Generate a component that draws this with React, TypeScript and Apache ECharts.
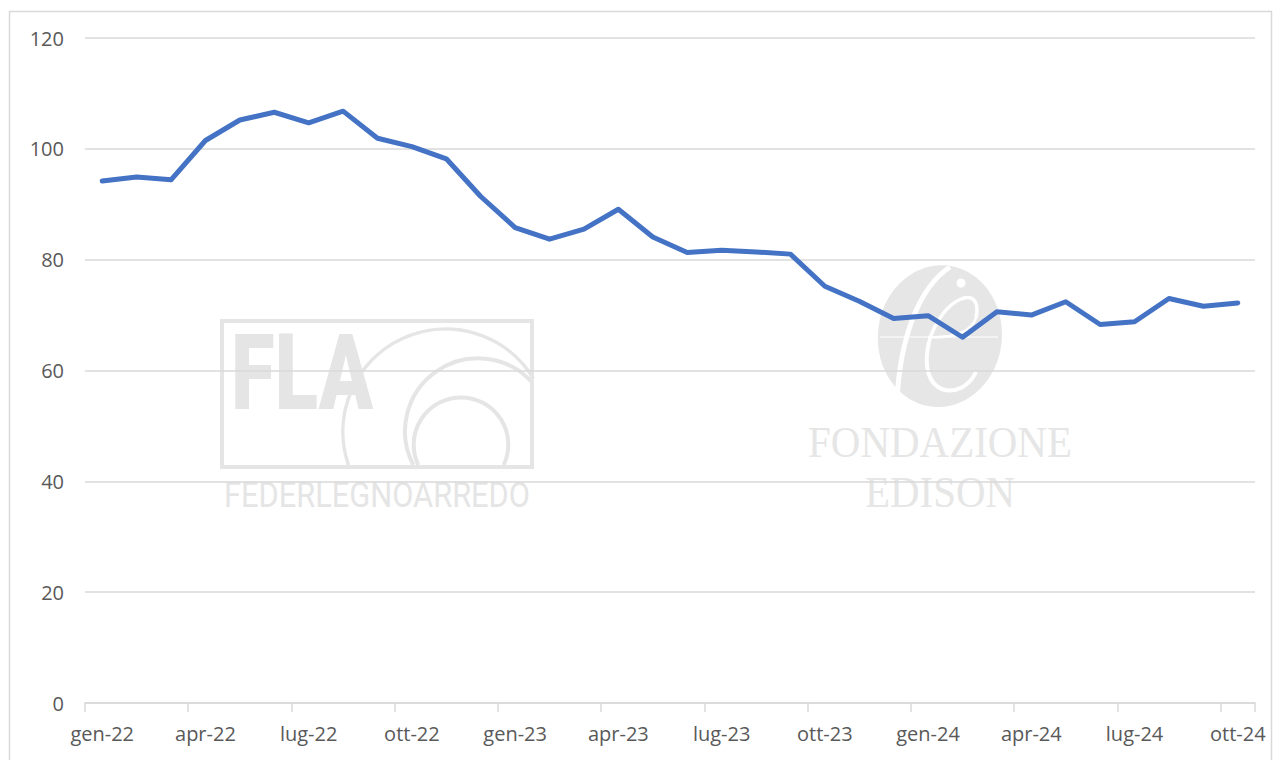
import React, { useEffect, useRef } from "react";
import * as echarts from "echarts";

const months: string[] = [
  "gen-22", "feb-22", "mar-22", "apr-22", "mag-22", "giu-22", "lug-22", "ago-22", "set-22", "ott-22", "nov-22", "dic-22",
  "gen-23", "feb-23", "mar-23", "apr-23", "mag-23", "giu-23", "lug-23", "ago-23", "set-23", "ott-23", "nov-23", "dic-23",
  "gen-24", "feb-24", "mar-24", "apr-24", "mag-24", "giu-24", "lug-24", "ago-24", "set-24", "ott-24",
];

const values2022: number[] = [94.2, 94.9, 94.4, 101.5, 105.2, 106.6, 104.7, 106.8, 101.9, 100.4, 98.2, 91.4];
const values2023: number[] = [85.8, 83.7, 85.5, 89.1, 84.1, 81.3, 81.7, 81.4, 81.0, 75.2, 72.5, 69.4];
const values2024: number[] = [69.9, 66.0, 70.6, 70.0, 72.4, 68.3, 68.8, 73.0, 71.6, 72.2];

const seriesValues: number[] = [...values2022, ...values2023, ...values2024];

const yTicks = { min: 0, max: 120, interval: 20 };

const deg = (d: number) => (d * Math.PI) / 180;

export default function App() {
  const ref = useRef<HTMLDivElement | null>(null);

  useEffect(() => {
    document.body.style.margin = "0";
    if (!ref.current) return;
    const chart = echarts.init(ref.current, undefined, { renderer: "svg" });
    const wm = "#e5e5e5";
    const white = "#ffffff";
    chart.setOption({
      animation: false,
      backgroundColor: "#ffffff",
      grid: { left: 85, right: 19, top: 38, bottom: 57, containLabel: false },
      xAxis: {
        type: "category",
        data: months,
        boundaryGap: true,
        axisLine: { lineStyle: { color: "#d9d9d9", width: 1.5 } },
        axisTick: { show: true, interval: 2, length: 9, lineStyle: { color: "#d9d9d9", width: 1.5 } },
        axisLabel: { interval: 2, color: "#595959", fontSize: 20, fontFamily: "Open Sans", margin: 20 },
        splitLine: { show: false },
      },
      yAxis: {
        type: "value",
        min: yTicks.min,
        max: yTicks.max,
        interval: yTicks.interval,
        axisLine: { show: false },
        axisTick: { show: false },
        splitLine: { lineStyle: { color: "#d9d9d9", width: 1.5 } },
        axisLabel: { color: "#595959", fontSize: 20, fontFamily: "Open Sans", margin: 21 },
      },
      series: [
        {
          type: "line",
          data: seriesValues,
          symbol: "none",
          z: 5,
          lineStyle: { color: "#4472C4", width: 5, cap: "round", join: "round" },
        },
      ],
      graphic: [
        {
          type: "rect",
          z: -2,
          silent: true,
          shape: { x: 9.5, y: 11.5, width: 1262, height: 800 },
          style: { fill: null, stroke: "#d9d9d9", lineWidth: 1.5 },
        },
        // FLA watermark
        {
          type: "rect",
          z: -1,
          silent: true,
          shape: { x: 222, y: 321, width: 310, height: 146 },
          style: { fill: null, stroke: wm, lineWidth: 4 },
        },
        {
          type: "text",
          z: -1,
          silent: true,
          x: 231,
          y: 373,
          scaleX: 0.76,
          style: { text: "FLA", fill: wm, font: "900 105px Roboto", align: "left", verticalAlign: "middle" },
        },
        {
          type: "arc",
          z: -1,
          silent: true,
          shape: { cx: 445.6, cy: 431.7, r: 102.7, startAngle: deg(161), endAngle: deg(328.7), clockwise: true },
          style: { stroke: wm, lineWidth: 3.5, fill: null },
        },
        {
          type: "arc",
          z: -1,
          silent: true,
          shape: { cx: 478, cy: 431.3, r: 73, startAngle: deg(152.5), endAngle: deg(317.3), clockwise: true },
          style: { stroke: wm, lineWidth: 4, fill: null },
        },
        {
          type: "arc",
          z: -1,
          silent: true,
          shape: { cx: 461, cy: 444.7, r: 47.3, startAngle: deg(154.6), endAngle: deg(385.4), clockwise: true },
          style: { stroke: wm, lineWidth: 4, fill: null },
        },
        {
          type: "text",
          z: -1,
          silent: true,
          x: 377,
          y: 495,
          scaleX: 0.88,
          style: { text: "FEDERLEGNOARREDO", fill: wm, font: "35px Roboto", align: "center", verticalAlign: "middle" },
        },
        // Fondazione Edison watermark
        {
          type: "ellipse",
          z: -1,
          silent: true,
          rotation: -0.1,
          originX: 940,
          originY: 336,
          shape: { cx: 940, cy: 336, rx: 62, ry: 71 },
          style: { fill: "#e6e6e6" },
        },
        {
          type: "bezierCurve",
          z: -1,
          silent: true,
          shape: { x1: 950, y1: 267, cpx1: 918, cpy1: 288, cpx2: 900, cpy2: 340, x2: 897, y2: 400 },
          style: { stroke: white, lineWidth: 5, fill: null },
        },
        {
          type: "bezierCurve",
          z: -1,
          silent: true,
          shape: { x1: 929, y1: 342, cpx1: 942, cpy1: 296, cpx2: 984, cpy2: 282, x2: 976, y2: 318 },
          style: { stroke: white, lineWidth: 3.5, fill: null },
        },
        {
          type: "bezierCurve",
          z: -1,
          silent: true,
          shape: { x1: 976, y1: 318, cpx1: 970, cpy1: 334, cpx2: 950, cpy2: 338, x2: 928, y2: 337 },
          style: { stroke: white, lineWidth: 2.5, fill: null },
        },
        {
          type: "bezierCurve",
          z: -1,
          silent: true,
          shape: { x1: 929, y1: 342, cpx1: 916, cpy1: 398, cpx2: 962, cpy2: 402, x2: 976, y2: 372 },
          style: { stroke: white, lineWidth: 4, fill: null },
        },
        {
          type: "circle",
          z: -1,
          silent: true,
          shape: { cx: 961, cy: 283, r: 4.5 },
          style: { fill: white },
        },
        {
          type: "line",
          z: -1,
          silent: true,
          shape: { x1: 880, y1: 337, x2: 998, y2: 337 },
          style: { stroke: white, lineWidth: 1.2 },
        },
        {
          type: "text",
          z: -1,
          silent: true,
          x: 940,
          y: 442,
          scaleX: 0.91,
          style: { text: "FONDAZIONE", fill: "#e6e6e6", font: "45px 'Liberation Serif'", align: "center", verticalAlign: "middle" },
        },
        {
          type: "text",
          z: -1,
          silent: true,
          x: 940,
          y: 492,
          scaleX: 0.91,
          style: { text: "EDISON", fill: "#e6e6e6", font: "45px 'Liberation Serif'", align: "center", verticalAlign: "middle" },
        },
      ],
    });
    return () => chart.dispose();
  }, []);

  return <div ref={ref} style={{ width: 1274, height: 760, background: "#fff" }} />;
}
